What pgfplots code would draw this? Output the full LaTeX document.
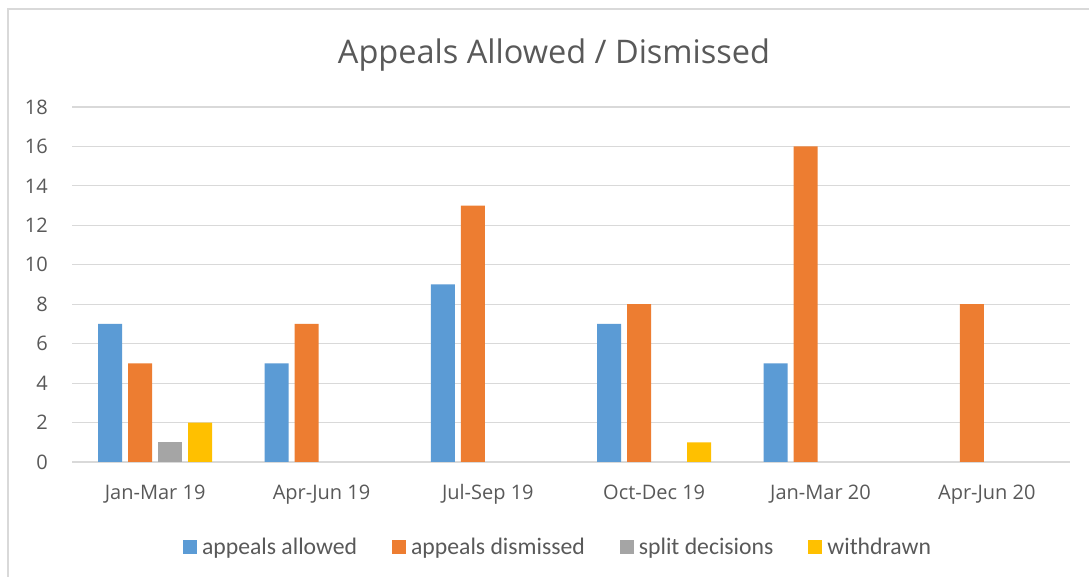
\documentclass[border=0pt]{standalone}
\usepackage{pgfplots}
\pgfplotsset{compat=1.18}
\usepackage{fontspec}
\setmainfont{Open Sans}
\newfontfamily\legfont{Carlito}
\definecolor{cblue}{HTML}{5B9BD5}
\definecolor{corange}{HTML}{ED7D31}
\definecolor{cgray}{HTML}{A5A5A5}
\definecolor{cyellow}{HTML}{FFC000}
\definecolor{gridc}{HTML}{D9D9D9}
\definecolor{txt}{HTML}{595959}
\begin{document}
\begin{tikzpicture}[x=1pt,y=1pt]
\useasboundingbox (0,0) rectangle (1089,577);
\fill[white] (0,0) rectangle (1089,577);
\draw[gridc, line width=1.2pt] (8,-20) -- (8,568) -- (1120,568);
\node[anchor=base, text=txt, font=\fontsize{32.5}{38}\selectfont] at (554,513) {Appeals Allowed / Dismissed};
\begin{axis}[
  at={(72pt,115pt)}, anchor=south west,
  scale only axis, width=998pt, height=355pt,
  ybar=6pt, bar width=24pt,
  xmin=-0.5, xmax=5.5, ymin=0, ymax=18,
  ytick={0,2,...,18},
  xtick={0,1,2,3,4,5},
  xticklabels={Jan-Mar 19,Apr-Jun 19,Jul-Sep 19,Oct-Dec 19,Jan-Mar 20,Apr-Jun 20},
  major tick length=0pt,
  tick style={draw=none},
  axis line style={draw=none},
  xmajorgrids=false, ymajorgrids=true,
  grid style={draw=gridc, line width=1.2pt},
  tick label style={text=txt, font=\fontsize{20}{24}\selectfont},
  /pgf/number format/assume math mode=true,
  yticklabel style={inner sep=0pt, anchor=east, xshift=-24pt},
  xticklabel style={inner sep=0pt, anchor=base, yshift=-38pt},
  legend columns=4,
  legend style={draw=none, fill=none, inner sep=0pt, outer sep=0pt,
    at={(0.486,-0.2408)}, anchor=center,
    font=\legfont\fontsize{23.7}{28}\selectfont, text=txt,
    nodes={inner sep=0pt},
    /tikz/every odd column/.append style={column sep=5pt},
    /tikz/every even column/.append style={column sep=35pt}},
  legend image code/.code={\fill[#1] (0pt,-7pt) rectangle (14pt,7pt);},
]
\addplot[fill=cblue, draw=none] coordinates {(0,7) (1,5) (2,9) (3,7) (4,5)};
\addplot[fill=corange, draw=none] coordinates {(0,5) (1,7) (2,13) (3,8) (4,16) (5,8)};
\addplot[fill=cgray, draw=none] coordinates {(0,1)};
\addplot[fill=cyellow, draw=none] coordinates {(0,2) (3,1)};
\addlegendentry{appeals allowed}
\addlegendentry{appeals dismissed}
\addlegendentry{split decisions}
\addlegendentry{withdrawn}
\end{axis}
\end{tikzpicture}
\end{document}
